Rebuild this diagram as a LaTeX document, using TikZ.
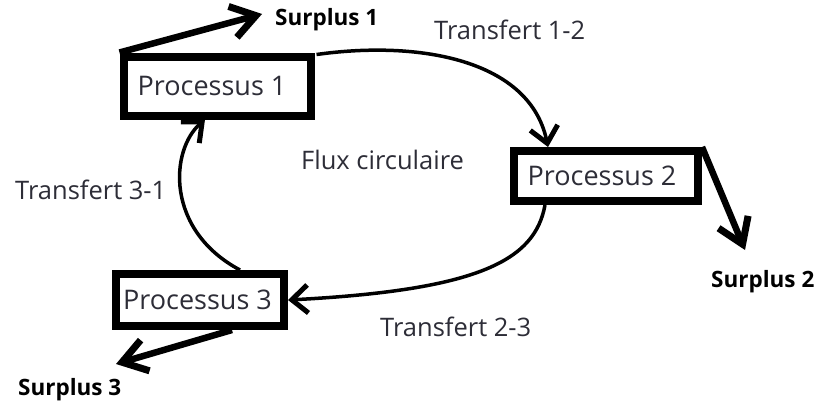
\documentclass[tikz,border=0pt]{standalone}
\usepackage{fontspec}
\setmainfont{Open Sans}
\usetikzlibrary{arrows.meta}
\definecolor{txt}{RGB}{45,45,55}
\tikzset{
  box/.style={draw=black, line width=8pt, fill=white, inner sep=0pt, font=\fontsize{27}{32}\selectfont, text=txt},
  lbl/.style={font=\fontsize{25.5}{30}\selectfont, text=txt, inner sep=0pt},
  sur/.style={font=\bfseries\fontsize{22.5}{26}\selectfont, text=black, inner sep=0pt},
  flow/.style={line width=3.5pt, -{Straight Barb[length=16pt,width=28pt,line width=5pt]}},
  outarr/.style={line width=6.5pt, -{Straight Barb[length=24pt,width=32pt,line width=7pt]}}
}
\begin{document}
\begin{tikzpicture}[x=1pt,y=-1pt]
\useasboundingbox[fill=white] (0,0) rectangle (826,407);
\node[box, minimum width=187pt, minimum height=59pt] (p1) at (217,86) {\hspace*{-10pt}Processus 1};
\node[box, minimum width=184pt, minimum height=50pt] (p2) at (606,176) {\hspace*{-8pt}Processus 2};
\node[box, minimum width=168pt, minimum height=52pt] (p3) at (200,300) {\hspace*{-5pt}Processus 3};
\node[sur, anchor=west] (s1) at (275,20) {Surplus 1};
\node[sur, anchor=west] (s2) at (711,282) {Surplus 2};
\node[sur, anchor=west] (s3) at (18,390) {Surplus 3};
\node[lbl, anchor=west] (t12) at (434,30) {Transfert 1-2};
\node[lbl, anchor=west] (t31) at (15,190) {Transfert 3-1};
\node[lbl, anchor=west] (t23) at (380,327) {Transfert 2-3};
\node[lbl, anchor=west] (fc) at (301,160) {Flux circulaire};
\coordinate (e1) at (262,14);
\coordinate (e2) at (745,250);
\coordinate (e3) at (116,364);
\draw[flow] ([xshift=2pt,yshift=-2pt]p1.north east) .. controls (420,40) and (530,60) .. (p2.north west -| 548,0);
\draw[flow] (p2.south west -| 545,0) .. controls (535,260) and (480,290) .. (p3.east);
\draw[flow] (p3.north -| 240,0) .. controls (165,230) and (170,150) .. (p1.south -| 205,0);
\draw[outarr] (p1.north west) -- (e1);
\draw[outarr] (p2.north east) -- (e2);
\draw[outarr] (p3.south -| 232,0) -- (e3);
\end{tikzpicture}
\end{document}
